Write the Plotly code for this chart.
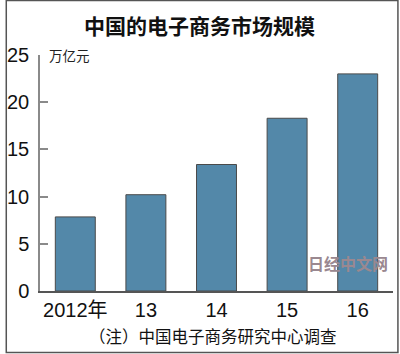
import plotly.graph_objects as go

categories = ["2012年", "13", "14", "15", "16"]
values = [7.85, 10.2, 13.4, 18.3, 23.0]
y_ticks = [0, 5, 10, 15, 20, 25]

title_text = "中国的电子商务市场规模"
unit_text = "万亿元"
note_text = "（注）中国电子商务研究中心调查"
watermark_text = "日经中文网"

W, H = 400, 354
L, R, T, B = 35, 6.5, 55, 63
pw = W - L - R
ph = H - T - B

def px_x(p):
    return (p - L) / pw

def px_y(p):
    return (H - B - p) / ph

num_font = "Liberation Sans Narrow, Arial Narrow, Liberation Sans, Noto Sans CJK SC, sans-serif"
cjk_font = "Noto Sans CJK SC, sans-serif"

fig = go.Figure()
fig.add_trace(go.Bar(
    x=categories, y=values,
    marker=dict(color="#5388a9", line=dict(color="#4a4a4a", width=1)),
    hoverinfo="skip",
))

fig.update_layout(
    width=W, height=H,
    margin=dict(l=L, r=R, t=T, b=B),
    paper_bgcolor="white", plot_bgcolor="white",
    bargap=0.434,
    showlegend=False,
    xaxis=dict(
        type="category", range=[-0.5, 4.5],
        showline=True, linecolor="#555555", linewidth=1.5,
        ticks="", showgrid=False, zeroline=False,
        tickfont=dict(family=num_font, size=20, color="#111111"),
        ticklabelstandoff=0,
    ),
    yaxis=dict(
        range=[0, 25], tickvals=y_ticks,
        showline=True, linecolor="#8a8a8a", linewidth=1.5,
        ticks="inside", ticklen=8, tickcolor="#8a8a8a", tickwidth=1.5,
        showgrid=False, zeroline=False,
        tickfont=dict(family=num_font, size=20, color="#111111"),
        ticklabelstandoff=5,
    ),
    annotations=[
        dict(text="<b>" + title_text + "</b>", xref="paper", yref="paper",
             x=px_x(197), y=px_y(25), xanchor="center", yanchor="middle",
             showarrow=False, font=dict(family=cjk_font, size=21, color="#111111")),
        dict(text=unit_text, xref="paper", yref="paper",
             x=px_x(42), y=px_y(55), xanchor="left", yanchor="middle",
             showarrow=False, font=dict(family=cjk_font, size=13.5, color="#222222")),
        dict(text=note_text, xref="paper", yref="paper",
             x=px_x(211), y=px_y(336), xanchor="center", yanchor="middle",
             showarrow=False, font=dict(family=cjk_font, size=16.5, color="#111111")),
        dict(text="<b>" + watermark_text + "</b>", xref="paper", yref="paper",
             x=px_x(305), y=px_y(263), xanchor="left", yanchor="middle",
             showarrow=False, font=dict(family=cjk_font, size=16, color="#9a8890")),
    ],
    shapes=[
        dict(type="rect", xref="paper", yref="paper",
             x0=px_x(0.75), x1=px_x(398.5), y0=px_y(352.5), y1=px_y(0.5),
             line=dict(color="#555555", width=1.5), layer="above"),
    ],
)

fig.write_html("out.html")
